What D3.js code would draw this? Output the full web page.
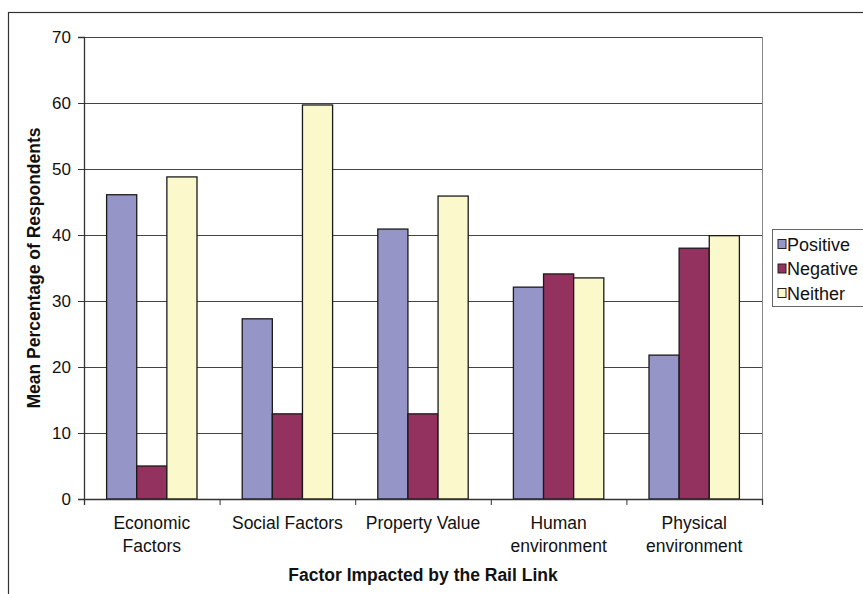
<!DOCTYPE html>
<html>
<head>
<meta charset="utf-8">
<script src="https://cdn.jsdelivr.net/npm/d3@7"></script>
<style>
  html, body { margin: 0; padding: 0; background: #fff; }
  svg { display: block; font-family: "Liberation Sans", Arial, sans-serif; }
</style>
</head>
<body>
<svg id="chart" width="863" height="594"></svg>
<script>
// Factors and mean percentage of respondents per response type
const categories = [["Economic", "Factors"], ["Social Factors"], ["Property Value"], ["Human", "environment"], ["Physical", "environment"]];
const seriesNames = ["Positive", "Negative", "Neither"];
const positive = [46.1, 27.3, 40.9, 32.1, 21.8];
const negative = [5.0, 12.9, 12.9, 34.1, 38.0];
const neither = [48.8, 59.7, 45.9, 33.5, 39.9];
const yTicks = [0, 10, 20, 30, 40, 50, 60, 70];
const colors = ["#9595c8", "#93315f", "#fbf8cc"];

const seriesValues = [positive, negative, neither];
const svg = d3.select("#chart");

const plot = { left: 84, top: 37, right: 762, bottom: 499 };

// Outer chart frame
svg.append("rect")
  .attr("x", 8.5).attr("y", 12.5)
  .attr("width", 900).attr("height", 700)
  .attr("fill", "none").attr("stroke", "#333").attr("stroke-width", 1.2);

const x0 = d3.scaleBand()
  .domain(d3.range(categories.length))
  .range([plot.left, plot.right])
  .paddingInner(0).paddingOuter(0);

const bw = x0.bandwidth() / 4.5; // gap width 150%
const x1 = d3.scaleBand()
  .domain(seriesNames)
  .range([x0.bandwidth() / 2 - 1.5 * bw, x0.bandwidth() / 2 + 1.5 * bw])
  .padding(0);

const y = d3.scaleLinear().domain([0, 70]).range([plot.bottom, plot.top]);

// Gridlines
svg.append("g").selectAll("line")
  .data(yTicks.filter(t => t > 0))
  .join("line")
  .attr("x1", plot.left).attr("x2", plot.right)
  .attr("y1", d => Math.round(y(d)) + 0.5).attr("y2", d => Math.round(y(d)) + 0.5)
  .attr("stroke", "#444").attr("stroke-width", 1);

// Right edge of plot area
svg.append("line")
  .attr("x1", plot.right + 0.5).attr("x2", plot.right + 0.5)
  .attr("y1", plot.top).attr("y2", plot.bottom)
  .attr("stroke", "#888").attr("stroke-width", 1);

// Bars
const groups = svg.append("g").selectAll("g")
  .data(categories)
  .join("g")
  .attr("transform", (d, i) => `translate(${x0(i)},0)`);

groups.selectAll("rect")
  .data((d, i) => seriesNames.map((s, k) => ({ s, k, v: seriesValues[k][i] })))
  .join("rect")
  .attr("x", d => x1(d.s))
  .attr("y", d => y(d.v))
  .attr("width", x1.bandwidth())
  .attr("height", d => y(0) - y(d.v))
  .attr("fill", d => colors[d.k])
  .attr("stroke", "#1a1a1a").attr("stroke-width", 1.3);

// Y axis
const yAxis = d3.axisLeft(y).tickValues(yTicks).tickSize(6).tickPadding(7);
const gy = svg.append("g")
  .attr("transform", `translate(${plot.left},0)`)
  .call(yAxis);
gy.select(".domain").attr("stroke", "#333").attr("stroke-width", 1.3);
gy.selectAll(".tick line").attr("stroke", "#333");
gy.selectAll(".tick text")
  .attr("font-size", 17).attr("fill", "#111")
  .attr("font-family", "Liberation Sans, Arial, sans-serif");

// X axis with ticks at category boundaries
const boundaries = d3.range(categories.length + 1);
const xb = d3.scaleLinear().domain([0, categories.length]).range([plot.left, plot.right]);
const gx = svg.append("g")
  .attr("transform", `translate(0,${plot.bottom})`)
  .call(d3.axisBottom(xb).tickValues(boundaries).tickSize(6).tickFormat(""));
gx.select(".domain").attr("stroke", "#333").attr("stroke-width", 1.3);
gx.selectAll(".tick line").attr("stroke", "#333");

// Category labels
const catLabels = svg.append("g").selectAll("text")
  .data(categories)
  .join("text")
  .attr("x", (d, i) => x0(i) + x0.bandwidth() / 2)
  .attr("y", 529)
  .attr("text-anchor", "middle")
  .attr("font-size", 17.5).attr("fill", "#111");
catLabels.selectAll("tspan")
  .data(d => d)
  .join("tspan")
  .attr("x", function () { return d3.select(this.parentNode).attr("x"); })
  .attr("dy", (d, i) => i === 0 ? 0 : 22.5)
  .text(d => d);

// Axis titles
svg.append("text")
  .attr("x", (plot.left + plot.right) / 2)
  .attr("y", 581)
  .attr("text-anchor", "middle")
  .attr("font-size", 17.5).attr("font-weight", "bold").attr("fill", "#111")
  .text("Factor Impacted by the Rail Link");

svg.append("text")
  .attr("transform", `translate(40,${(plot.top + plot.bottom) / 2}) rotate(-90)`)
  .attr("text-anchor", "middle")
  .attr("font-size", 17.5).attr("font-weight", "bold").attr("fill", "#111")
  .text("Mean Percentage of Respondents");

// Legend
const legend = svg.append("g").attr("transform", "translate(772,229)");
legend.append("rect")
  .attr("x", 0.5).attr("y", 0.5).attr("width", 120).attr("height", 77)
  .attr("fill", "#fff").attr("stroke", "#666").attr("stroke-width", 1);
const items = legend.selectAll("g.item")
  .data(seriesNames)
  .join("g")
  .attr("class", "item")
  .attr("transform", (d, i) => `translate(0,${21.5 + i * 24.5})`);
items.append("rect")
  .attr("x", 6).attr("y", -11).attr("width", 8).attr("height", 9)
  .attr("fill", (d, i) => colors[i]).attr("stroke", "#222").attr("stroke-width", 1);
items.append("text")
  .attr("x", 15).attr("y", 0)
  .attr("font-size", 18).attr("fill", "#111")
  .text(d => d);
</script>
</body>
</html>
